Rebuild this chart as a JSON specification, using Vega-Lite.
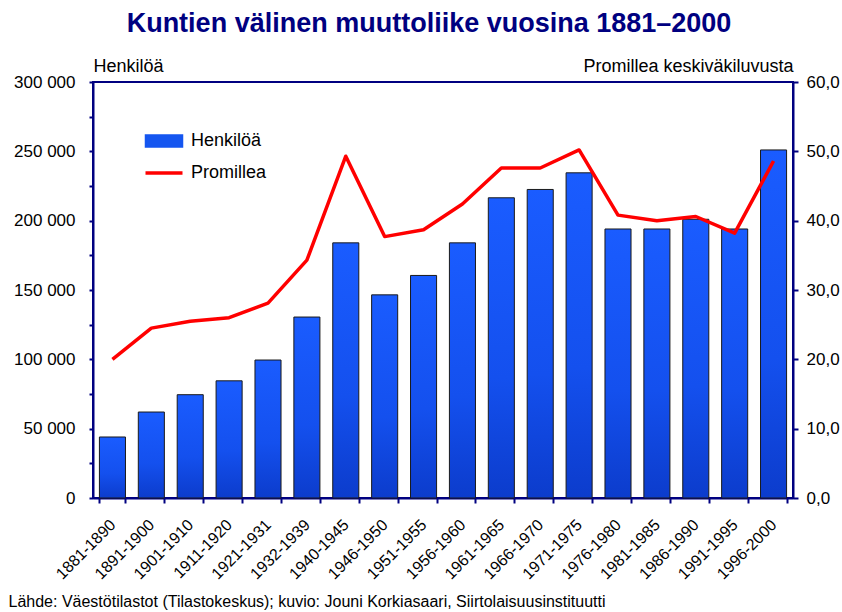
{
  "$schema": "https://vega.github.io/schema/vega-lite/v6.json",
  "autosize": {"type": "none"},
  "width": 700,
  "height": 416,
  "padding": {"left": 93, "top": 82, "right": 49, "bottom": 114},
  "background": "white",
  "config": {
    "font": "Liberation Sans",
    "view": {"stroke": "#000080", "strokeWidth": 2},
    "axis": {"grid": false, "domainColor": "#000080", "domainWidth": 2, "tickColor": "#000080", "tickWidth": 2, "labelColor": "black", "labelFont": "Liberation Sans", "titleFont": "Liberation Sans", "titleColor": "black", "titleFontWeight": "normal"}
  },
  "title": {
    "text": "Kuntien välinen muuttoliike vuosina 1881–2000",
    "font": "Liberation Sans",
    "fontSize": 27,
    "fontWeight": "bold",
    "color": "#000080",
    "anchor": "middle",
    "frame": "group",
    "dx": -14,
    "offset": 19
  },
  "data": {
    "values": [
      {"period": "1881-1890", "henkiloa": 44000, "promillea": 20.0},
      {"period": "1891-1900", "henkiloa": 62000, "promillea": 24.5},
      {"period": "1901-1910", "henkiloa": 74500, "promillea": 25.5},
      {"period": "1911-1920", "henkiloa": 84500, "promillea": 26.0},
      {"period": "1921-1931", "henkiloa": 99500, "promillea": 28.1},
      {"period": "1932-1939", "henkiloa": 130500, "promillea": 34.3},
      {"period": "1940-1945", "henkiloa": 184000, "promillea": 49.3},
      {"period": "1946-1950", "henkiloa": 146500, "promillea": 37.7},
      {"period": "1951-1955", "henkiloa": 160500, "promillea": 38.7},
      {"period": "1956-1960", "henkiloa": 184000, "promillea": 42.4},
      {"period": "1961-1965", "henkiloa": 216500, "promillea": 47.6},
      {"period": "1966-1970", "henkiloa": 222500, "promillea": 47.6},
      {"period": "1971-1975", "henkiloa": 234500, "promillea": 50.2},
      {"period": "1976-1980", "henkiloa": 194000, "promillea": 40.8},
      {"period": "1981-1985", "henkiloa": 194000, "promillea": 40.0},
      {"period": "1986-1990", "henkiloa": 201000, "promillea": 40.6},
      {"period": "1991-1995", "henkiloa": 194000, "promillea": 38.2},
      {"period": "1996-2000", "henkiloa": 251000, "promillea": 48.6}
    ]
  },
  "encoding": {
    "x": {
      "field": "period",
      "type": "nominal",
      "sort": null,
      "scale": {"paddingInner": 0.33, "paddingOuter": 0.165},
      "axis": {
        "title": "Lähde: Väestötilastot (Tilastokeskus); kuvio: Jouni Korkiasaari, Siirtolaisuusinstituutti",
        "titleX": -85,
        "titleY": 108,
        "titleAlign": "left",
        "titleAnchor": null,
        "titleBaseline": "alphabetic",
        "titleFontSize": 16,
        "labelAngle": -45,
        "labelAlign": "right",
        "labelBaseline": "middle",
        "labelFontSize": 16,
        "labelPadding": 19,
        "tickSize": 5,
        "tickBand": "extent"
      }
    }
  },
  "layer": [
    {
      "mark": {
        "type": "bar",
        "stroke": "#1a1a1a",
        "strokeWidth": 1,
        "fill": {
          "gradient": "linear",
          "x1": 0, "y1": 0, "x2": 0, "y2": 1,
          "stops": [
            {"offset": 0, "color": "#1a5cff"},
            {"offset": 0.6, "color": "#1450ee"},
            {"offset": 1, "color": "#0c3ccc"}
          ]
        }
      },
      "encoding": {
        "y": {
          "field": "henkiloa",
          "type": "quantitative",
          "scale": {"domain": [0, 300000], "nice": false},
          "axis": {
            "title": "Henkilöä",
            "titleAngle": 0,
            "titleX": 0,
            "titleY": -11,
            "titleAlign": "left",
            "titleAnchor": null,
            "titleBaseline": "alphabetic",
            "titleFontSize": 18,
            "values": [0, 25000, 50000, 75000, 100000, 125000, 150000, 175000, 200000, 225000, 250000, 275000, 300000],
            "labelExpr": "datum.value % 50000 == 0 ? (datum.value == 0 ? '0' : format(datum.value / 1000, 'd') + ' 000') : ''",
            "labelFontSize": 17,
            "labelPadding": 14,
            "tickSize": 4
          }
        }
      }
    },
    {
      "mark": {"type": "line", "strokeWidth": 3.5, "strokeJoin": "round"},
      "encoding": {
        "y": {
          "field": "promillea",
          "type": "quantitative",
          "scale": {"domain": [0, 60], "nice": false},
          "axis": {
            "orient": "right",
            "title": "Promillea keskiväkiluvusta",
            "titleAngle": 0,
            "titleX": 0,
            "titleY": -11,
            "titleAlign": "right",
            "titleAnchor": null,
            "titleBaseline": "alphabetic",
            "titleFontSize": 18,
            "values": [0, 10, 20, 30, 40, 50, 60],
            "labelExpr": "replace(format(datum.value, '.1f'), '.', ',')",
            "labelFontSize": 17,
            "labelPadding": 8,
            "tickSize": 5
          }
        },
        "color": {
          "datum": "Promillea",
          "type": "nominal",
          "scale": {"domain": ["Henkilöä", "Promillea"], "range": ["#1556f0", "#ff0000"]},
          "legend": {
            "title": null,
            "orient": "none",
            "legendX": 62,
            "legendY": 50,
            "symbolSize": 1369,
            "symbolType": "M-1,-0.32H1V0.32H-1Z",
            "labelFontSize": 18,
            "labelFont": "Liberation Sans",
            "labelColor": "black",
            "labelOffset": 18,
            "rowPadding": 14,
            "encode": {
              "symbols": {
                "update": {
                  "shape": {"signal": "datum.value == 'Henkilöä' ? 'M-1,-0.32H1V0.32H-1Z' : 'M-1,0H1'"},
                  "fill": {"signal": "datum.value == 'Henkilöä' ? '#1556f0' : 'transparent'"},
                  "stroke": {"signal": "datum.value == 'Henkilöä' ? '#1a1a1a' : '#ff0000'"},
                  "strokeWidth": {"signal": "datum.value == 'Henkilöä' ? 1.5 : 3.5"},
                  "opacity": {"value": 1}
                }
              }
            }
          }
        }
      }
    }
  ],
  "resolve": {"scale": {"y": "independent"}}
}
